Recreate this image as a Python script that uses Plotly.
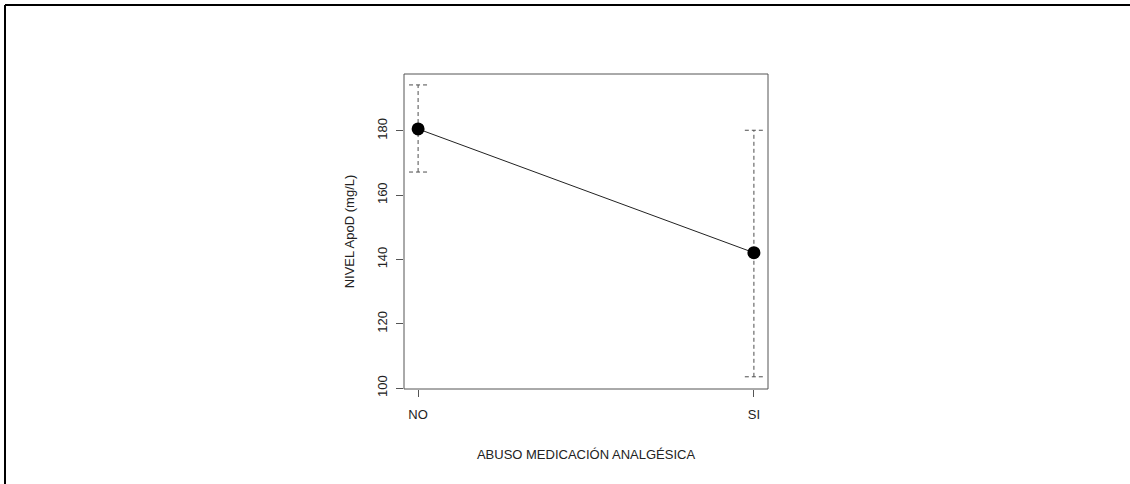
import plotly.graph_objects as go

categories = ["NO", "SI"]
means = [180.6, 142.1]
lower = [167.2, 103.5]
upper = [194.3, 180.2]
y_ticks = [100, 120, 140, 160, 180]

xpos = [1, 2]
cap = 0.027
FONT = "Liberation Sans, Arial, sans-serif"
ERR_COLOR = "#4d4d4d"

fig = go.Figure()

# dashed error bars with caps
for x, lo, hi in zip(xpos, lower, upper):
    fig.add_trace(go.Scatter(
        x=[x, x, None, x - cap, x + cap, None, x - cap, x + cap],
        y=[lo, hi, None, lo, lo, None, hi, hi],
        mode="lines", line=dict(color=ERR_COLOR, width=1, dash="4px,3px"),
        hoverinfo="skip", showlegend=False))

fig.add_trace(go.Scatter(
    x=xpos, y=means, mode="lines+markers",
    line=dict(color="#222222", width=1),
    marker=dict(color="black", size=13),
    showlegend=False))

W, H = 1130, 484
L, R, T, B = 404, 768, 74, 389
pw, ph = R - L, B - T

def px(xp):
    return (xp - L) / pw

def py(yp):
    return (B - yp) / ph

fig.update_layout(
    width=W, height=H,
    margin=dict(l=L, r=W - R, t=T, b=H - B),
    paper_bgcolor="white", plot_bgcolor="white",
    font=dict(family=FONT, size=13, color="#222222"),
    xaxis=dict(
        range=[0.958, 2.042], tickvals=xpos, ticktext=categories,
        showgrid=False, zeroline=False, showline=False,
        ticks="outside", ticklen=7, tickcolor="#555555",
        ticklabelstandoff=6,
        title=dict(text="ABUSO MEDICACIÓN ANALGÉSICA", standoff=29,
                   font=dict(size=13)),
    ),
    yaxis=dict(
        range=[99.7, 197.7], tickvals=y_ticks,
        showgrid=False, zeroline=False, showline=False,
        ticks="outside", ticklen=7, tickcolor="#555555",
        tickangle=-90, ticklabelstandoff=4,
        title=dict(text="NIVEL ApoD (mg/L)", standoff=17,
                   font=dict(size=13)),
    ),
    shapes=[
        dict(type="rect", xref="paper", yref="paper", x0=0, x1=1, y0=0, y1=1,
             line=dict(color="#555555", width=1)),
        dict(type="line", xref="paper", yref="paper",
             x0=px(5), x1=px(W + 5), y0=py(5), y1=py(5),
             line=dict(color="black", width=2)),
        dict(type="line", xref="paper", yref="paper",
             x0=px(5), x1=px(5), y0=py(5), y1=py(H + 5),
             line=dict(color="black", width=2)),
    ],
)

fig.write_html("out.html",
               config={"displayModeBar": False},
               post_script="document.body.style.margin='0px';document.body.style.overflow='hidden';")
